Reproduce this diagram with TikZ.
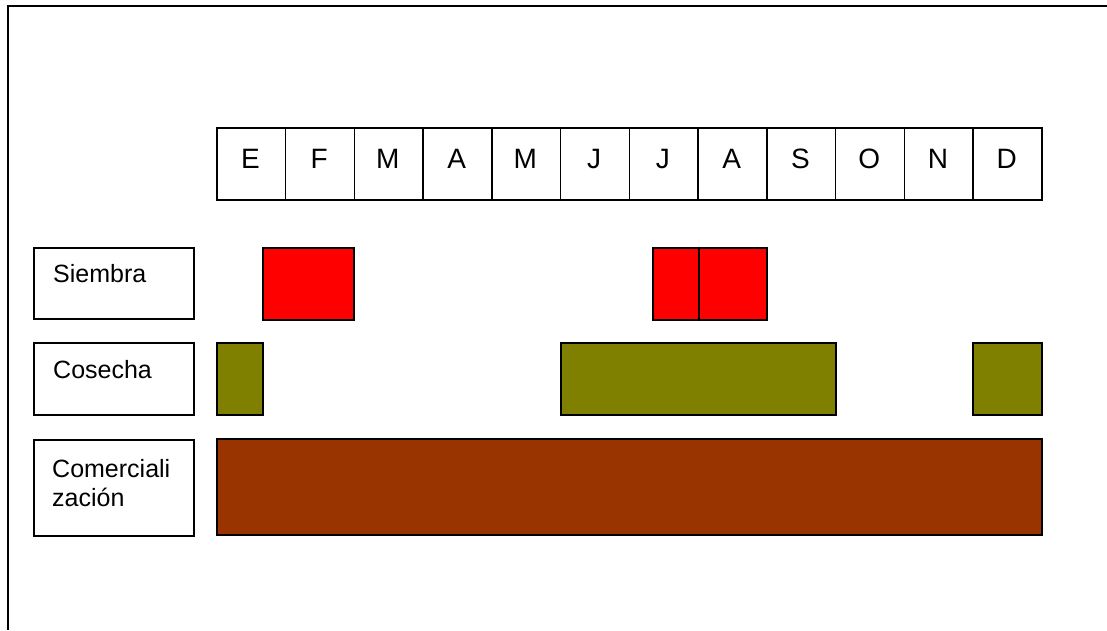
\documentclass[tikz,border=0pt]{standalone}
\usepackage{fontspec}
\setmainfont{Liberation Sans}
\definecolor{redfill}{HTML}{FF0000}
\definecolor{olivefill}{HTML}{808000}
\definecolor{brownfill}{HTML}{993300}
\begin{document}
\begin{tikzpicture}[x=1pt,y=-1pt,
  box/.style={draw=black,line width=1.5pt,rectangle,inner sep=0pt,anchor=north west},
  monthtxt/.style={font=\fontsize{28}{32}\selectfont,anchor=base,inner sep=0pt},
  labtxt/.style={font=\fontsize{25}{29}\selectfont,anchor=base west,inner sep=0pt,align=left}]
\useasboundingbox (0,0) rectangle (1107,630);
\fill[white] (0,0) rectangle (1107,630);
% frame (top and left edges)
\coordinate (ftl) at (8,6);
\coordinate (ftr) at (1107,6);
\coordinate (fbl) at (8,630);
\draw[line width=2pt] (ftr) -- (ftl) -- (fbl);
% month row
\foreach \m [count=\i from 0] in {E,F,M,A,M,J,J,A,S,O,N,D}{
  \pgfmathsetmacro{\xx}{216+68.75*\i}
  \node[box,minimum width=68.75pt,minimum height=72pt] (m\i) at (\xx,127) {};
  \node[monthtxt] (mt\i) at (\xx+34.4,168) {\m};
}
% row labels
\node[box,minimum width=160pt,minimum height=71pt] (sl) at (33,247) {};
\node[labtxt] (slt) at (53,282) {Siembra};
\node[box,minimum width=160pt,minimum height=72pt] (cl) at (33,342) {};
\node[labtxt] (clt) at (53,378) {Cosecha};
\node[box,minimum width=160pt,minimum height=96pt] (kl) at (33,439) {};
\node[labtxt] (klt) at (52,506) {Comerciali\\zación};
% siembra bars
\node[box,fill=redfill,minimum width=91pt,minimum height=72pt] (s1) at (262,247) {};
\node[box,fill=redfill,minimum width=46pt,minimum height=72pt] (s2) at (652,247) {};
\node[box,fill=redfill,minimum width=68pt,minimum height=72pt] (s3) at (698,247) {};
% cosecha bars
\node[box,fill=olivefill,minimum width=46pt,minimum height=72pt] (c1) at (216,342) {};
\node[box,fill=olivefill,minimum width=275pt,minimum height=72pt] (c2) at (560,342) {};
\node[box,fill=olivefill,minimum width=69pt,minimum height=72pt] (c3) at (972,342) {};
% comercializacion bar
\node[box,fill=brownfill,minimum width=825pt,minimum height=96pt] (k1) at (216,438) {};
\end{tikzpicture}
\end{document}
